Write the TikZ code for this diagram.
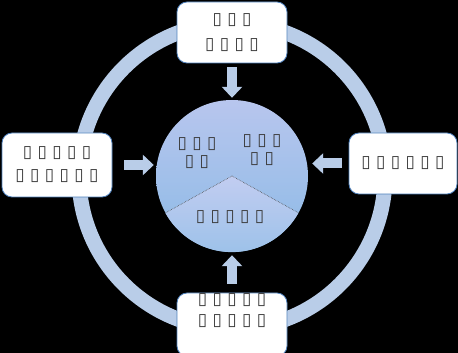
\documentclass[tikz,border=0pt]{standalone}
\usepackage{fontspec}
\newfontfamily\boxfont{DejaVu Sans}
\usetikzlibrary{arrows.meta,positioning,calc}
\definecolor{ringblue}{HTML}{B9CDE8}
\definecolor{edgeblue}{HTML}{4F81BD}
\definecolor{hubtop}{HTML}{B8C6EE}
\definecolor{hubbottom}{HTML}{8CBAE6}
\definecolor{sectortop}{HTML}{C2CDF1}
\definecolor{sectorbottom}{HTML}{98C0E8}
\definecolor{glyphgray}{HTML}{3A3A3A}

\begin{document}
\begin{tikzpicture}[
  x=1pt, y=1pt,
  font=\boxfont\fontsize{17}{23}\selectfont,
  box/.style={
    draw=edgeblue,
    fill=white,
    rounded corners=10pt,
    line width=0.8pt,
    align=center,
    text=glyphgray,
    inner sep=0pt,
    minimum width=110pt,
    minimum height=61pt
  },
  hubstyle/.style={
    circle,
    draw=none,
    inner sep=0pt,
    minimum size=152pt,
    top color=hubtop,
    bottom color=hubbottom
  },
  hublabel/.style={
    align=center,
    text=glyphgray,
    inner sep=0pt,
    font=\boxfont\fontsize{17}{18}\selectfont
  },
  divider/.style={densely dotted,line width=0.6pt,draw=black!70},
  ring/.style={line width=15pt,draw=ringblue},
  blockarrow/.style={-{Triangle[length=11pt,width=20pt]},line width=10pt,draw=ringblue}
]

% canvas
\fill[black] (0,0) rectangle (458,353);
\useasboundingbox (0,0) rectangle (458,353);

% outer ring
\coordinate (c) at (232,177);
\draw[ring] (c) circle[radius=153];

% centre circle with its lower sector
\node[hubstyle] (hub) at (c) {};
\shade[top color=sectortop,bottom color=sectorbottom]
  (hub.center) -- (hub.209) arc[start angle=209,end angle=331,radius=76] -- cycle;
\draw[divider] (hub.center) -- (hub.209);
\draw[divider] (hub.center) -- (hub.331);

\node[hublabel] (hublt) at (197,200) {▯ ▯ ▯\\▯ ▯};
\node[hublabel] (hubrt) at (262,202.5) {▯ ▯ ▯\\▯ ▯};
\node[hublabel] (hubbot) at (230,136) {▯ ▯ ▯ ▯ ▯};

% outer boxes
\node[box] (topbox) at (232,320.5) {▯ ▯ ▯\\[2pt]▯ ▯ ▯ ▯};
\node[box,minimum height=64pt] (leftbox) at (57,188) {▯ ▯ ▯ ▯ ▯\\▯ ▯ ▯ ▯ ▯ ▯};
\node[box,minimum width=108pt] (rightbox) at (403,189.5) {▯ ▯ ▯ ▯ ▯ ▯};
\node[box,minimum height=63pt] (botbox) at (232,28.5) {▯ ▯ ▯ ▯ ▯\\[-2pt]▯ ▯ ▯ ▯ ▯\\[6pt]};

% arrows into the centre
\draw[blockarrow,shorten <=4pt,shorten >=2pt] (topbox.south) -- (topbox.south |- hub.north);
\draw[blockarrow,shorten <=9pt,shorten >=3pt] (botbox.north) -- (botbox.north |- hub.south);
\draw[blockarrow,shorten <=12pt,shorten >=2pt] (leftbox.east) -- (leftbox.east -| hub.west);
\draw[blockarrow,shorten <=7pt,shorten >=4pt] (rightbox.west) -- (rightbox.west -| hub.east);

\end{tikzpicture}
\end{document}
